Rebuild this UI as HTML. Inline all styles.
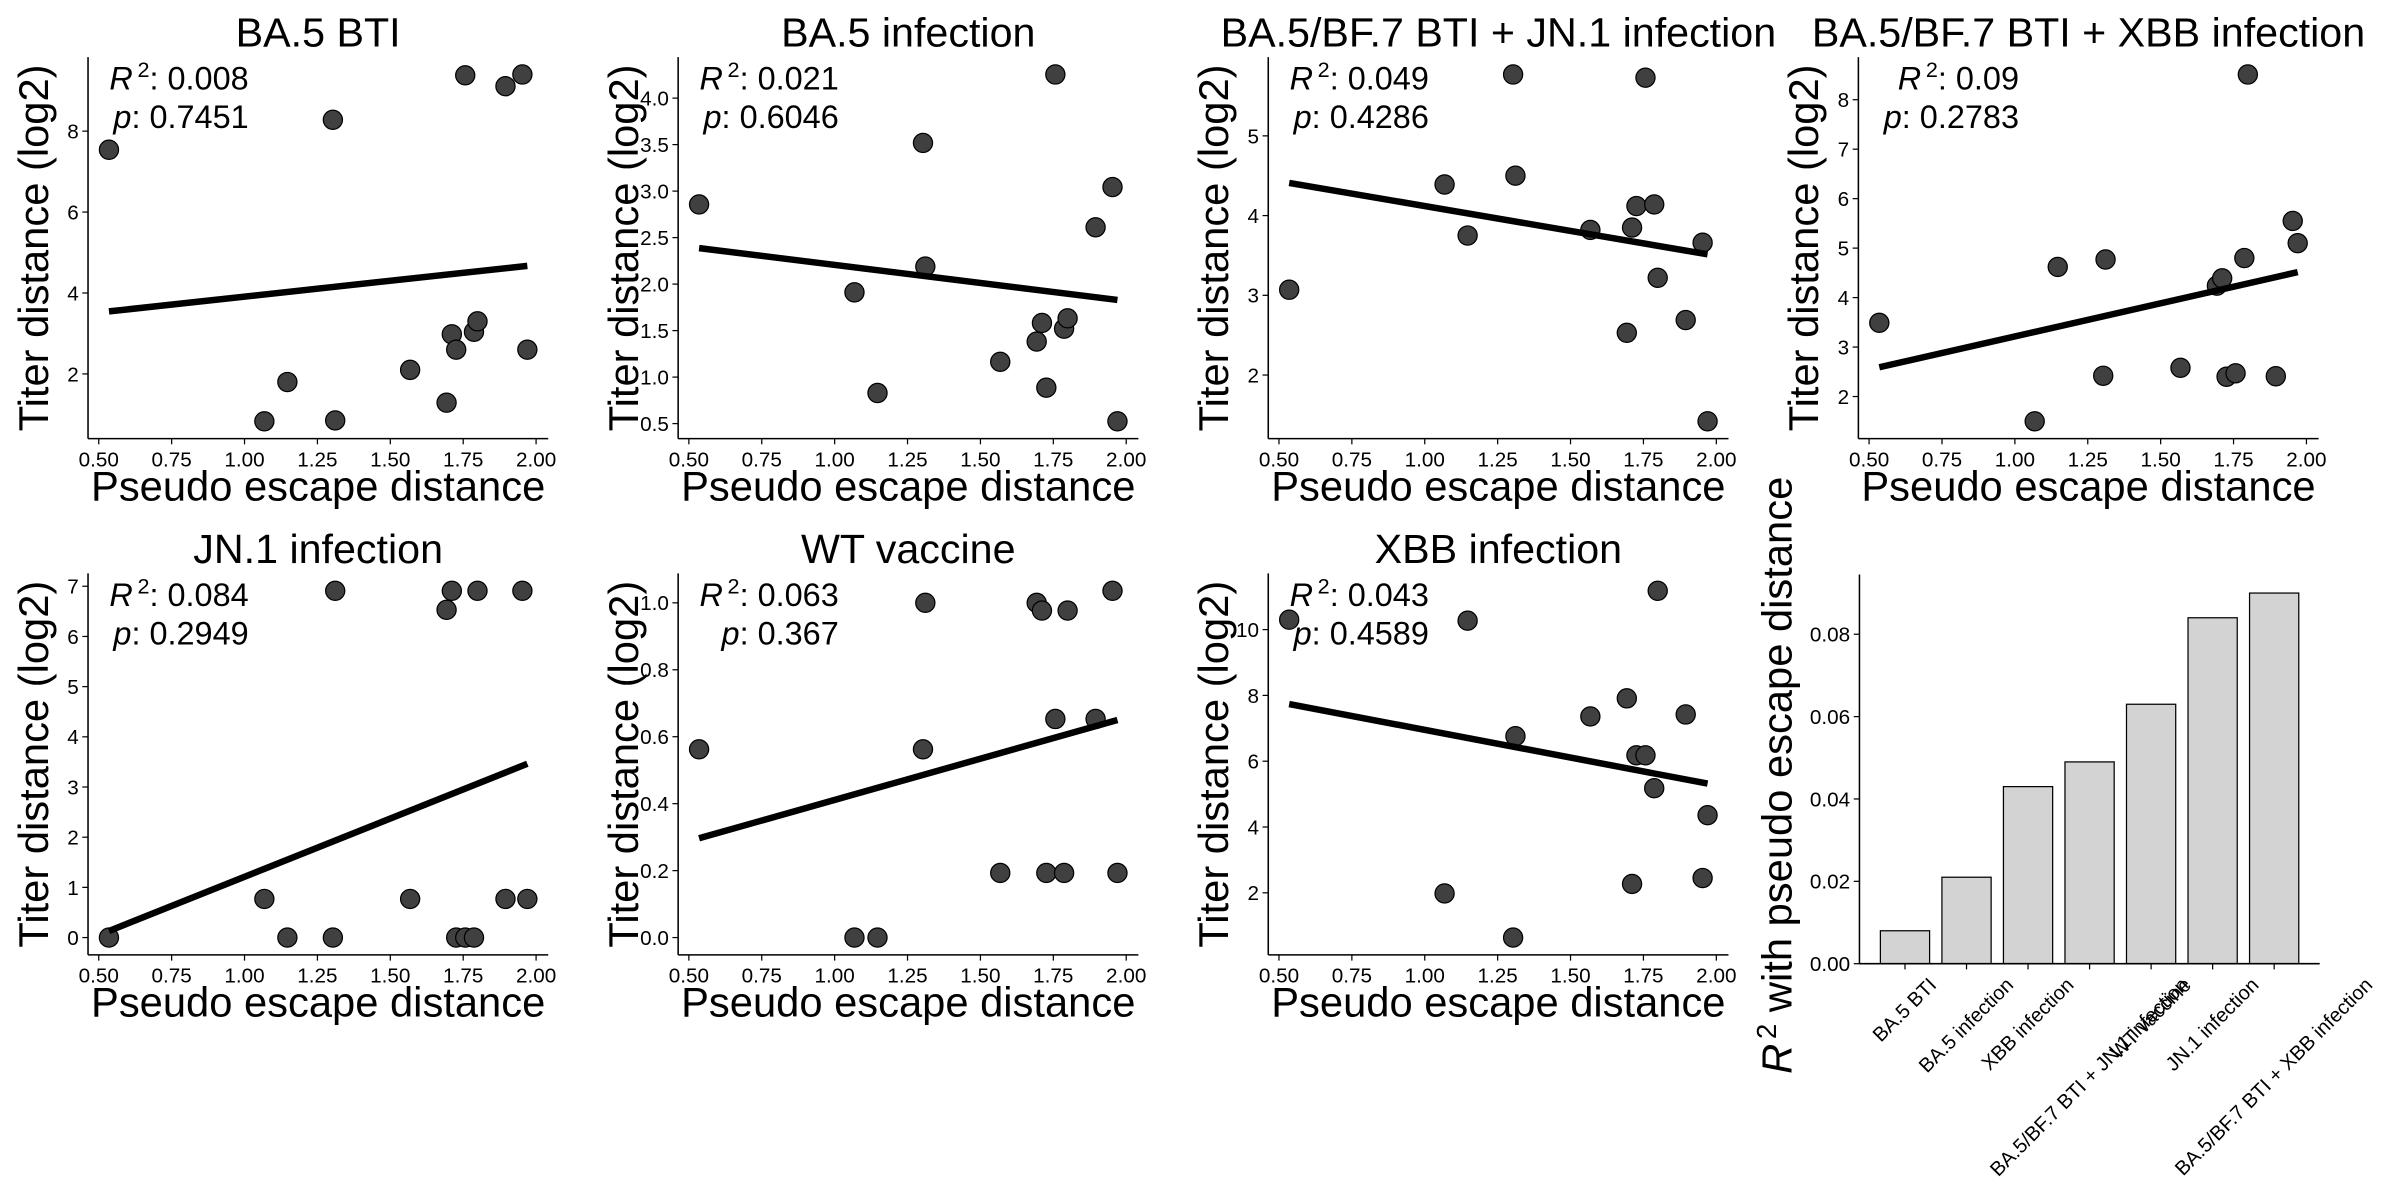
<!DOCTYPE html>
<html>
<head>
<meta charset="utf-8">
<style>
  html,body{margin:0;padding:0;background:#fff;}
  svg{display:block;}
  text{font-family:"Liberation Sans", Arial, sans-serif; fill:#000;}
</style>
</head>
<body>
<svg id="fig" width="2400" height="1200" viewBox="0 0 1554 777" preserveAspectRatio="none" xmlns="http://www.w3.org/2000/svg">
  <rect x="0" y="0" width="1554" height="777" fill="#fff"></rect>
</svg>
<script>
// ---------------- data ----------------
const xVals = [0.535,1.068,1.147,1.303,1.311,1.568,1.693,1.711,1.726,1.757,1.787,1.799,1.895,1.953,1.970];
const panelTitles = ["BA.5 BTI","BA.5 infection","BA.5/BF.7 BTI + JN.1 infection","BA.5/BF.7 BTI + XBB infection","JN.1 infection","WT vaccine","XBB infection"];
const yBA5BTI = [7.54,0.83,1.80,8.28,0.85,2.10,1.29,2.98,2.60,9.38,3.04,3.30,9.11,9.40,2.60];
const yBA5Inf = [2.857,1.911,0.829,3.518,2.189,1.164,1.382,1.582,0.886,4.254,1.521,1.632,2.611,3.043,0.525];
const yBTIJN1 = [3.07,4.39,3.75,5.77,4.50,3.82,2.53,3.85,4.12,5.73,4.14,3.22,2.69,3.66,1.42];
const yBTIXBB = [3.49,1.50,4.62,2.42,4.77,2.58,4.24,4.39,2.40,2.47,4.80,8.51,2.41,5.55,5.10];
const yJN1Inf = [0,0.77,0,0,6.91,0.77,6.53,6.91,0,0,0,6.91,0.77,6.91,0.77];
const yWTVac = [0.5625,0,0,0.5625,1.0,0.193,1.0,0.977,0.193,0.653,0.193,0.977,0.653,1.036,0.193];
const yXBBInf = [10.30,1.98,10.27,0.64,6.76,7.36,7.91,2.27,6.18,6.18,5.18,11.18,7.42,2.45,4.36];
const r2Labels = ["0.008","0.021","0.049","0.09","0.084","0.063","0.043"];
const pLabels = ["0.7451","0.6046","0.4286","0.2783","0.2949","0.367","0.4589"];
const xTickLabels = ["0.50","0.75","1.00","1.25","1.50","1.75","2.00"];
const yTicks1 = ["2","4","6","8"];
const yTicks2 = ["0.5","1.0","1.5","2.0","2.5","3.0","3.5","4.0"];
const yTicks3 = ["2","3","4","5"];
const yTicks4 = ["2","3","4","5","6","7","8"];
const yTicks5 = ["0","1","2","3","4","5","6","7"];
const yTicks6 = ["0.0","0.2","0.4","0.6","0.8","1.0"];
const yTicks7 = ["2","4","6","8","10"];
const barCats = ["BA.5 BTI","BA.5 infection","XBB infection","BA.5/BF.7 BTI + JN.1 infection","WT vaccine","JN.1 infection","BA.5/BF.7 BTI + XBB infection"];
const barVals = [0.008,0.021,0.043,0.049,0.063,0.084,0.09];
const barTickLabels = ["0.00","0.02","0.04","0.06","0.08"];

// ---------------- helpers ----------------
const NS = "http://www.w3.org/2000/svg";
const svg = document.getElementById("fig");
function mk(tag, attrs, parent){
  const el = document.createElementNS(NS, tag);
  for (const k in attrs) el.setAttribute(k, attrs[k]);
  (parent || svg).appendChild(el);
  return el;
}
function range(arr){ let a=Math.min(...arr), b=Math.max(...arr); const m=(b-a)*0.05; return [a-m,b+m]; }

const panelY = [yBA5BTI,yBA5Inf,yBTIJN1,yBTIXBB,yJN1Inf,yWTVac,yXBBInf];
const panelTicks = [yTicks1,yTicks2,yTicks3,yTicks4,yTicks5,yTicks6,yTicks7];
const W = 298, H = 247;
const TICKFS = 13.4, LABELFS = 27, TITLEFS = 26.7, STATFS = 21;

function drawPanel(i){
  const col = i % 4, row = Math.floor(i / 4);
  const L = 57 + 382.1 * col;
  const T = row === 0 ? 37 : 371.3;
  const ys = panelY[i];
  const xr = range(xVals), yr = range(ys);
  const sx = v => L + (v - xr[0]) / (xr[1] - xr[0]) * W;
  const sy = v => T + H - (v - yr[0]) / (yr[1] - yr[0]) * H;
  const g = mk("g", {});
  
  

  const title = mk("text", {x: L + W/2, y: T - 6.8, "text-anchor":"middle", "font-size": TITLEFS}, g);
  title.textContent = panelTitles[i];
  
  

  const ly = mk("line", {x1:L, y1:T, x2:L, y2:T+H, stroke:"#000", "stroke-width":1}, g);
  
  
  const lx = mk("line", {x1:L, y1:T+H, x2:L+W, y2:T+H, stroke:"#000", "stroke-width":1}, g);
  
  

  xTickLabels.forEach(s => {
    const v = parseFloat(s), x = sx(v);
    const tk = mk("line", {x1:x, y1:T+H, x2:x, y2:T+H+3.7, stroke:"#000", "stroke-width":0.8}, g);
    
    
    const t = mk("text", {x:x, y:T+H+18, "text-anchor":"middle", "font-size":TICKFS}, g);
    t.textContent = s;
    
    
  });
  panelTicks[i].forEach(s => {
    const v = parseFloat(s), y = sy(v);
    const tk = mk("line", {x1:L-3.7, y1:y, x2:L, y2:y, stroke:"#000", "stroke-width":0.8}, g);
    
    
    const t = mk("text", {x:L-6, y:y+4.8, "text-anchor":"end", "font-size":TICKFS}, g);
    t.textContent = s;
    
    
  });
  const xl = mk("text", {x:L+W/2, y:T+H+40, "text-anchor":"middle", "font-size":LABELFS}, g);
  xl.textContent = "Pseudo escape distance";
  
  
  const yx = L - 26, yy = T + H/2;
  const yl = mk("text", {x:yx, y:yy, "text-anchor":"middle", "font-size":LABELFS, transform:`rotate(-90 ${yx} ${yy})`}, g);
  yl.textContent = "Titer distance (log2)";
  
  

  xVals.forEach((xv, k) => {
    const c = mk("circle", {cx:sx(xv), cy:sy(ys[k]), r:6.2, fill:"#404040", stroke:"#000", "stroke-width":0.8}, g);
    
    
  });

  const n = xVals.length;
  const mx = xVals.reduce((a,b)=>a+b,0)/n, my = ys.reduce((a,b)=>a+b,0)/n;
  let sxy=0, sxx=0;
  for (let k=0;k<n;k++){ sxy += (xVals[k]-mx)*(ys[k]-my); sxx += (xVals[k]-mx)**2; }
  const slope = sxy/sxx, icpt = my - slope*mx;
  const x0 = Math.min(...xVals), x1 = Math.max(...xVals);
  const rl = mk("line", {x1:sx(x0), y1:sy(icpt+slope*x0), x2:sx(x1), y2:sy(icpt+slope*x1), stroke:"#000", "stroke-width":4.2}, g);
  
  

  const ex = L + 104;
  const r2 = mk("text", {x:ex, y:T+21, "text-anchor":"end", "font-size":STATFS}, g);
  r2.innerHTML = `<tspan font-style="italic">R</tspan><tspan font-size="14" dx="3" dy="-8">2</tspan><tspan dy="8">: ${r2Labels[i]}</tspan>`;
  
  
  const pt = mk("text", {x:ex, y:T+46, "text-anchor":"end", "font-size":STATFS}, g);
  pt.innerHTML = `<tspan font-style="italic">p</tspan><tspan>: ${pLabels[i]}</tspan>`;
  
  
}
for (let i=0;i<7;i++) drawPanel(i);

// ---------------- bar chart ----------------
(function(){
  const L = 1204, T = 372, W2 = 298, H2 = 252, B = T + H2;
  const g = mk("g", {});
  
  
  const xmin = -0.74, xmax = barCats.length - 1 + 0.74;
  const ymax = Math.max(...barVals) * 1.05;
  const sx = v => L + (v - xmin) / (xmax - xmin) * W2;
  const sy = v => B - v / ymax * H2;

  barVals.forEach((v, k) => {
    const x0 = sx(k - 0.4), x1 = sx(k + 0.4);
    const r = mk("rect", {x:x0, y:sy(v), width:x1-x0, height:B-sy(v), fill:"#d3d3d3", stroke:"#000", "stroke-width":0.8}, g);
    
    
  });
  const ly = mk("line", {x1:L, y1:T, x2:L, y2:B, stroke:"#000", "stroke-width":1}, g);
  
  
  const lx = mk("line", {x1:L, y1:B, x2:L+W2, y2:B, stroke:"#000", "stroke-width":1}, g);
  
  

  barTickLabels.forEach(s => {
    const y = sy(parseFloat(s));
    const tk = mk("line", {x1:L-3.7, y1:y, x2:L, y2:y, stroke:"#000", "stroke-width":0.8}, g);
    
    
    const t = mk("text", {x:L-6, y:y+4.8, "text-anchor":"end", "font-size":TICKFS}, g);
    t.textContent = s;
    
    
  });

  const FS = 13;
  barCats.forEach((c, k) => {
    const x = sx(k);
    const tk = mk("line", {x1:x, y1:B, x2:x, y2:B+3.7, stroke:"#000", "stroke-width":0.8}, g);
    
    
    const t = mk("text", {x:x, y:0, "text-anchor":"middle", "dominant-baseline":"central", "font-size":FS}, g);
    t.textContent = c;
    
    
    let len = 0;
    try { len = t.getComputedTextLength(); } catch(e) {}
    if (!len) len = c.length * FS * 0.55;
    const half = (len + FS * 1.15) * 0.7071 / 2;
    const cy = B + 6.5 + half;
    t.setAttribute("y", cy);
    t.setAttribute("transform", `rotate(-45 ${x} ${cy})`);
  });

  const yx = 1160, yy = 502;
  const yl = mk("text", {x:yx, y:yy, "text-anchor":"middle", "font-size":LABELFS, transform:`rotate(-90 ${yx} ${yy})`}, g);
  yl.innerHTML = `<tspan font-style="italic">R</tspan><tspan font-size="18" dx="3" dy="-10">2</tspan><tspan dy="10"> with pseudo escape distance</tspan>`;
  
  
})();
</script>
</body>
</html>
